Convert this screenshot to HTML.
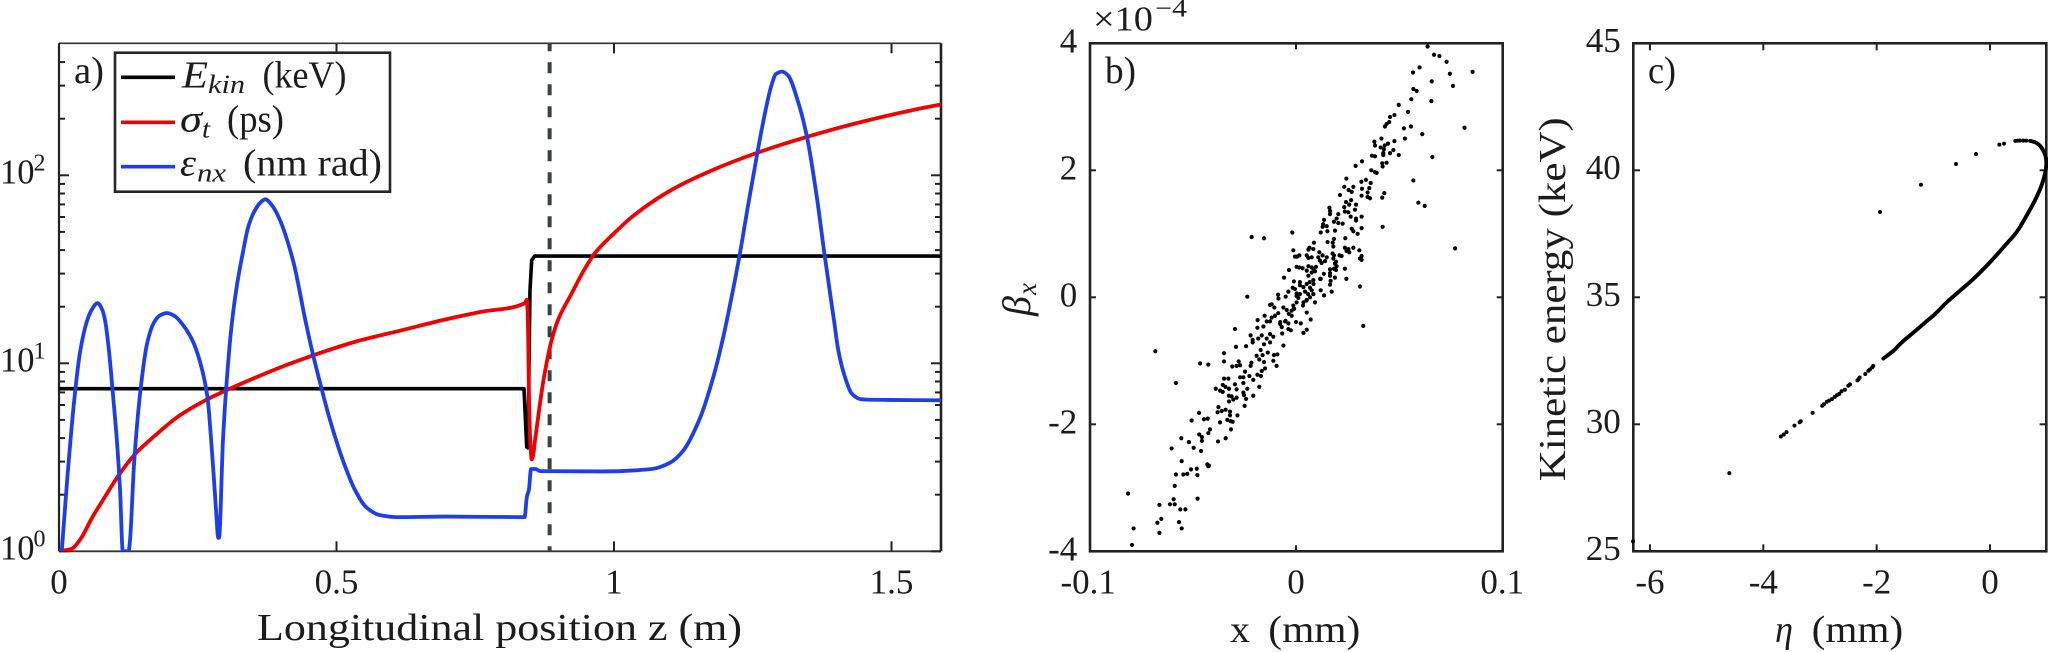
<!DOCTYPE html>
<html lang="en">
<head>
<meta charset="utf-8">
<title>Beam dynamics figure</title>
<style>
html,body{margin:0;padding:0;background:#fff;width:2048px;height:652px;overflow:hidden}
svg{display:block}
text{font-family:"Liberation Serif",serif;fill:#1c1c1c}
.it{font-style:italic}
</style>
</head>
<body>
<svg id="fig" width="2048" height="652" viewBox="0 0 2048 652" xmlns="http://www.w3.org/2000/svg">
  <defs>
    <clipPath id="clip-a"><rect x="59" y="43.3" width="882" height="508"/></clipPath>
  </defs>
  <rect x="0" y="0" width="2048" height="652" fill="#fff"/>
  <g id="panel-a"></g>
  <g id="panel-b"></g>
  <g id="panel-c"></g>

  <g>
    <rect x="115" y="52.7" width="275" height="139" fill="#fff" stroke="#262626" stroke-width="2.6"/>
    <line x1="121" y1="77.3" x2="175" y2="77.3" stroke="#000" stroke-width="3.6"/>
    <line x1="121" y1="122.3" x2="175" y2="122.3" stroke="#f00000" stroke-width="3.6"/>
    <line x1="121" y1="166.7" x2="175" y2="166.7" stroke="#1f3fe6" stroke-width="3.6"/>
    <text class="it" x="182" y="87.3" font-size="38" textLength="26" lengthAdjust="spacingAndGlyphs">E</text>
    <text class="it" x="208" y="93" font-size="26" textLength="37" lengthAdjust="spacingAndGlyphs">kin</text>
    <text x="262.5" y="87.3" font-size="38" textLength="84" lengthAdjust="spacingAndGlyphs">(keV)</text>
    <text class="it" x="180" y="131.7" font-size="38" textLength="22" lengthAdjust="spacingAndGlyphs">σ</text>
    <text class="it" x="202" y="137.5" font-size="26" textLength="8" lengthAdjust="spacingAndGlyphs">t</text>
    <text x="227" y="131.7" font-size="38" textLength="57" lengthAdjust="spacingAndGlyphs">(ps)</text>
    <text class="it" x="180" y="175.7" font-size="38" textLength="16" lengthAdjust="spacingAndGlyphs">ε</text>
    <text class="it" x="197" y="181.5" font-size="26" textLength="29" lengthAdjust="spacingAndGlyphs">nx</text>
    <text x="243" y="175.7" font-size="38" textLength="139" lengthAdjust="spacingAndGlyphs">(nm rad)</text>
  </g>

  <text x="74" y="83" font-size="38" textLength="30" lengthAdjust="spacingAndGlyphs">a)</text>
  <text x="1105" y="83" font-size="38" textLength="31" lengthAdjust="spacingAndGlyphs">b)</text>
  <text x="1648" y="83" font-size="38" textLength="28" lengthAdjust="spacingAndGlyphs">c)</text>

  <text x="257" y="640" font-size="38" textLength="485" lengthAdjust="spacingAndGlyphs">Longitudinal position z (m)</text>

  <text x="1230" y="642" font-size="38" textLength="20" lengthAdjust="spacingAndGlyphs">x</text>
  <text x="1268.3" y="642" font-size="38" textLength="92" lengthAdjust="spacingAndGlyphs">(mm)</text>
  <g transform="translate(1030,316) rotate(-90)">
    <text class="it" x="0" y="0" font-size="40">β</text>
    <text class="it" x="21" y="6" font-size="27">x</text>
  </g>
  <g>
    <text x="1093" y="30.7" font-size="35" textLength="60" lengthAdjust="spacingAndGlyphs">×10</text>
    <text x="1155" y="16.7" font-size="25" textLength="32" lengthAdjust="spacingAndGlyphs">−4</text>
  </g>

  <text class="it" x="1775" y="642" font-size="38" textLength="18" lengthAdjust="spacingAndGlyphs">η</text>
  <text x="1811.7" y="642" font-size="38" textLength="91.5" lengthAdjust="spacingAndGlyphs">(mm)</text>
  <text x="0" y="0" font-size="38" textLength="364" lengthAdjust="spacingAndGlyphs" transform="translate(1565,481.3) rotate(-90)">Kinetic energy (keV)</text>
</svg>

<script>
// ---------- Panel a data ----------
const xTicksA = [0, 0.5, 1, 1.5];
const xTickLabelsA = ['0', '0.5', '1', '1.5'];
const yDecadesA = [0, 1, 2];
const markerZ = [0.884];

const energyZ = [0, 0.8378, 0.8427, 0.845, 0.8486, 0.8517, 0.857, 1.59];
const energyKeV = [7.33, 7.33, 3.59, 3.55, 24.4, 35.3, 37.2, 37.2];

const sigmaZ = [0, 0.0223, 0.0386, 0.0586, 0.0865, 0.1068, 0.1351, 0.1748, 0.2155, 0.2677, 0.304, 0.3523, 0.4085, 0.4568, 0.5369, 0.618, 0.6919, 0.7586, 0.8396, 0.8427, 0.8445, 0.8474, 0.8495, 0.8517, 0.854, 0.8577, 0.8667, 0.873, 0.8877, 0.8991, 0.9243, 0.9441, 0.9654, 1.0, 1.0342, 1.1034, 1.1723, 1.2586, 1.3472, 1.4481, 1.586, 1.59];
const sigmaPs = [1.00, 1.03, 1.16, 1.49, 2.03, 2.52, 3.24, 4.17, 5.23, 6.44, 7.24, 8.35, 9.76, 11.0, 13.1, 15.0, 17.0, 18.75, 20.9, 21.8, 18.5, 5.42, 3.66, 3.08, 3.2, 3.89, 6.13, 8.15, 13.3, 17.0, 23.7, 30.6, 38.5, 49.1, 60.7, 83.6, 105, 132, 160, 193, 237, 238];

const emitZ = [0.005, 0.0144, 0.0265, 0.0378, 0.0505, 0.0595, 0.0694, 0.0775, 0.0829, 0.0901, 0.0973, 0.1045, 0.11, 0.115, 0.1254, 0.1279, 0.1351, 0.147, 0.1591, 0.1712, 0.182, 0.1946, 0.209, 0.2198, 0.2396, 0.254, 0.2677, 0.2739, 0.2793, 0.2829, 0.287, 0.2883, 0.2955, 0.304, 0.3117, 0.3207, 0.3315, 0.3405, 0.3506, 0.3622, 0.3719, 0.3838, 0.3957, 0.4216, 0.4447, 0.4568, 0.4728, 0.4883, 0.5132, 0.5333, 0.5532, 0.5775, 0.609, 0.6973, 0.8389, 0.8429, 0.8468, 0.8505, 0.8589, 0.8667, 0.9796, 1.0681, 1.1002, 1.1243, 1.155, 1.18, 1.1964, 1.2108, 1.227, 1.2414, 1.2586, 1.272, 1.2829, 1.2919, 1.3032, 1.3135, 1.3308, 1.3477, 1.3654, 1.3791, 1.3964, 1.4042, 1.4162, 1.4283, 1.4432, 1.4553, 1.59];
const emitNmRad = [1.00, 2.33, 5.98, 11.4, 16.8, 19.4, 20.9, 19.4, 17.0, 11.6, 6.78, 3.81, 2.12, 1.00, 1.00, 1.14, 2.87, 7.28, 12.9, 16.5, 18.0, 18.5, 17.8, 16.5, 13.4, 10.2, 6.54, 4.0, 2.39, 1.66, 1.18, 1.18, 3.94, 9.44, 16.6, 26.1, 39.1, 52.5, 63.1, 71.3, 74.5, 69.2, 60.0, 35.3, 16.5, 11.4, 7.39, 4.99, 2.95, 2.12, 1.72, 1.56, 1.52, 1.53, 1.52, 1.94, 2.14, 2.74, 2.74, 2.67, 2.66, 2.74, 2.95, 3.42, 5.12, 8.67, 13.6, 21.7, 38.6, 68.7, 133, 214, 295, 346, 356, 340, 251, 160, 76.7, 38.3, 16.9, 11.7, 8.45, 6.9, 6.46, 6.41, 6.36];

// ---------- Panel b data: [x (mm), beta_x (1e-4)] ----------
const xTicksB = [-0.1, 0, 0.1];
const xTickLabelsB = ['-0.1', '0', '0.1'];
const yTicksB = [-4, -2, 0, 2, 4];
const yTickLabelsB = ['-4', '-2', '0', '2', '4'];
const particlesB = [
[.0638,3.95],[.0669,3.82],[.0695,3.80],[.0730,3.71],[.0599,3.62],[.0567,3.54],[.0856,3.55],[.0746,3.52],[.0658,3.40],[.0761,3.33],
[.0569,3.28],[.0585,3.25],[.0559,3.12],[.0656,3.09],[.0498,3.03],[.0543,2.92],[.0477,2.87],[.0456,2.84],[.0452,2.76],[.0439,2.73],
[.0431,2.69],[.0817,2.67],[.0523,2.66],[.0557,2.69],[.0612,2.57],[.0528,2.50],[.0414,2.50],[.0477,2.46],[.0380,2.45],[.0383,2.39],
[.0446,2.42],[.0430,2.39],[.0410,2.36],[.0426,2.33],[.0472,2.32],[.0423,2.27],[.0456,2.27],[.0498,2.24],[.0423,2.24],[.0368,2.23],
[.0383,2.22],[.0661,2.21],[.0320,2.14],[.0289,2.07],[.0439,2.12],[.0418,2.11],[.0420,2.06],[.0365,2.00],[.0383,1.97],[.0391,1.96],
[.0244,1.87],[.0569,1.84],[.0317,1.82],[.0339,1.85],[.0362,1.80],[.0234,1.74],[.0278,1.74],[.0320,1.71],[.0355,1.72],[.0255,1.69],
[.0270,1.66],[.0347,1.65],[.0428,1.64],[.0213,1.61],[.0318,1.60],[.0347,1.58],[.0359,1.56],[.0418,1.57],[.0593,1.49],[.0624,1.44],
[.0267,1.53],[.0242,1.50],[.0258,1.46],[.0291,1.46],[.0162,1.41],[.0234,1.42],[.0286,1.38],[.0165,1.36],[.0237,1.35],[.0254,1.34],
[.0205,1.31],[.0165,1.31],[.0265,1.27],[.0318,1.27],[.0291,1.24],[.0291,1.21],[.0197,1.24],[.0136,1.22],[.0184,1.19],[.0205,1.17],
[.0226,1.16],[.0132,1.15],[.0129,1.11],[.0149,1.12],[.0318,1.09],[.0420,1.11],[.0189,1.05],[.0270,1.08],[.0120,1.02],[.0152,1.04],
[.0278,1.04],[.0299,1.00],[-.0018,1.02],[-.0215,.95],[-.0155,.93],[.0239,.93],[.0184,.92],[.0153,.87],[.0178,.86],[.0087,.86],
[.0181,.80],[.0771,.77],[.0065,.78],[.0084,.76],[.0060,.75],[.0237,.78],[.0254,.76],[.0278,.78],[-.0013,.74],[.0307,.74],
[.0245,.73],[.0258,.71],[.0113,.71],[.0221,.65],[.0318,.65],[.0052,.66],[.0016,.66],[-.0005,.64],[.0005,.64],[.0184,.66],
[.0129,.66],[.0108,.63],[.0149,.63],[.0076,.63],[.0181,.61],[.0310,.61],[.0318,.59],[.0060,.62],[.0116,.58],[.0194,.56],
[.0141,.57],[.0124,.54],[.0189,.53],[.0003,.48],[.0016,.47],[.0060,.49],[.0097,.48],[.0197,.49],[.0032,.46],[.0084,.45],
[.0052,.42],[.0165,.44],[-.0034,.43],[.0092,.41],[.0076,.39],[.0194,.43],[.0184,.45],[.0165,.38],[.0060,.34],[.0165,.34],
[-.0058,.31],[.0084,.27],[.0120,.29],[.0189,.31],[.0168,.26],[-.0010,.25],[.0019,.24],[.0165,.20],[.0052,.21],[.0019,.19],
[.0310,.17],[-.0016,.15],[.0036,.16],[-.0005,.13],[.0068,.15],[.0120,.11],[.0173,.09],[-.0037,.09],[.0044,.09],[.0136,.03],
[.0003,.06],[.0019,.05],[.0084,.05],[-.0087,.04],[-.0050,.01],[.0003,.02],[.0011,-.01],[-.0236,.01],[-.0085,-.02],[.0052,-.04],
[.0036,-.08],[.0092,-.08],[.0003,-.08],[-.0118,-.11],[-.0126,-.12],[-.0013,-.13],[-.0105,-.16],[-.0061,-.16],[-.0010,-.18],[-.0045,-.20],
[-.0021,-.21],[.0052,-.24],[-.0086,-.25],[-.0152,-.29],[-.0102,-.29],[-.0021,-.29],[-.0118,-.32],[-.0186,-.36],[.0071,-.35],[-.0126,-.38],
[-.0142,-.38],[-.0053,-.38],[-.0037,-.41],[.0000,-.39],[.0023,-.41],[-.0077,-.42],[.0326,-.45],[-.0296,-.50],[-.0187,-.48],[-.0158,-.46],
[-.0069,-.47],[-.0037,-.50],[.0052,-.51],[.0036,-.56],[-.0220,-.60],[-.0126,-.58],[-.0110,-.62],[-.0166,-.60],[-.0183,-.65],[-.0210,-.67],
[-.0210,-.71],[-.0142,-.65],[-.0155,-.74],[-.0126,-.71],[-.0061,-.76],[-.0242,-.77],[-.0291,-.78],[-.0682,-.85],[-.0171,-.83],[-.0137,-.87],
[-.0349,-.88],[-.0090,-.90],[-.0107,-.91],[-.0162,-.91],[-.0191,-.92],[-.0178,-.98],[-.0349,-1.01],[-.0278,-1.01],[-.0155,-1.02],[-.0110,-1.00],
[-.0465,-1.04],[-.0425,-1.06],[-.0216,-1.03],[-.0271,-1.07],[-.0220,-1.08],[-.0309,-1.09],[-.0094,-1.08],[-.0288,-1.08],[-.0150,-1.12],[-.0166,-1.16],
[-.0247,-1.17],[-.0255,-1.26],[-.0271,-1.26],[-.0226,-1.24],[-.0187,-1.22],[-.0170,-1.24],[-.0349,-1.28],[-.0328,-1.28],[-.0207,-1.30],[-.0582,-1.35],
[-.0255,-1.35],[-.0355,-1.38],[-.0296,-1.37],[-.0342,-1.41],[-.0178,-1.41],[-.0389,-1.44],[-.0325,-1.44],[-.0288,-1.45],[-.0236,-1.44],[-.0368,-1.47],
[-.0355,-1.49],[-.0255,-1.50],[-.0252,-1.54],[-.0207,-1.55],[-.0325,-1.55],[-.0312,-1.56],[-.0288,-1.58],[-.0242,-1.60],[-.0304,-1.61],[-.0325,-1.64],
[-.0249,-1.71],[-.0376,-1.73],[-.0341,-1.77],[-.0360,-1.79],[-.0380,-1.81],[-.0320,-1.80],[-.0470,-1.82],[-.0320,-1.86],[-.0284,-1.86],[-.0428,-1.91],
[-.0446,-1.92],[-.0506,-1.94],[-.0333,-1.93],[-.0317,-1.95],[-.0307,-1.96],[-.0368,-1.97],[-.0315,-2.08],[-.0417,-2.08],[-.0425,-2.14],[-.0469,-2.16],
[-.0456,-2.20],[-.0556,-2.22],[-.0341,-2.22],[-.0456,-2.26],[-.0378,-2.27],[-.0519,-2.28],[-.0496,-2.37],[-.0603,-2.38],[-.0460,-2.42],[-.0554,-2.58],
[-.0430,-2.63],[-.0425,-2.66],[-.0422,-2.65],[-.0509,-2.71],[-.0481,-2.70],[-.0527,-2.78],[-.0546,-2.79],[-.0582,-2.79],[-.0478,-2.80],[-.0588,-2.97],
[-.0814,-3.09],[-.0477,-3.17],[-.0593,-3.18],[-.0662,-3.27],[-.0611,-3.26],[-.0588,-3.26],[-.0561,-3.34],[-.0536,-3.34],[-.0653,-3.49],[-.0672,-3.55],
[-.0567,-3.54],[-.0787,-3.64],[-.0554,-3.64],[-.0662,-3.71],[-.0795,-3.90],
[.0059,.05],[.0068,0],[.0051,-.05],[.0034,-.13],[-.0009,-.18],[-.0035,-.26],[-.0076,-.39],[-.0051,-.37],[-.0025,-.52],[-.0067,-.57],
[.0076,.11],[.0066,.24],[.0085,.21],[.0117,.29],[.0135,.37],[.0076,.47],[.0177,.69],[.0211,.66],[.0237,.45],[.0244,.29]
];

// ---------- Panel c data ----------
const xTicksC = [-6, -4, -2, 0];
const xTickLabelsC = ['-6', '-4', '-2', '0'];
const yTicksC = [25, 30, 35, 40, 45];
const yTickLabelsC = ['25', '30', '35', '40', '45'];
const curveEta = [0.706, 0.82, 0.91, 0.976, 0.994, 0.976, 0.91, 0.794, 0.647, 0.47, 0.265, 0, -0.294, -0.53, -0.765, -0.97, -1.118, -1.294, -1.353, -1.559, -1.706, -1.882];
const curveEnergy = [41.16, 41.08, 40.89, 40.59, 40.26, 39.93, 39.41, 38.82, 38.22, 37.57, 37.04, 36.38, 35.72, 35.26, 34.80, 34.34, 34.06, 33.72, 33.61, 33.22, 32.89, 32.59];
const looseEta = [-6.3, -4.6, -3.69, -3.64, -3.59, -3.45, -3.36, -3.34, -3.13, -2.96, -2.93, -2.88, -2.84, -2.79, -2.74, -2.7, -2.66, -2.62, -2.56, -2.5, -2.47, -2.34, -2.32, -2.3, -2.2, -2.147, -2.12, -2.08, -2.06, -1.94, -1.218, -0.6, -0.247, 0.165, 0.247, 0.447, 0.49, 0.53, 0.588, 0.64];
const looseEnergy = [25.39, 28.08, 29.52, 29.6, 29.69, 29.95, 30.08, 30.12, 30.45, 30.73, 30.79, 30.89, 30.93, 30.99, 31.08, 31.15, 31.2, 31.3, 31.36, 31.52, 31.57, 31.73, 31.78, 31.84, 31.98, 32.11, 32.16, 32.24, 32.3, 38.36, 39.43, 40.25, 40.64, 41.01, 41.05, 41.16, 41.17, 41.17, 41.17, 41.17];

// ---------- Axis functions ----------
const NS = 'http://www.w3.org/2000/svg';
const TOP = 43.3, BOTTOM = 551.3;
const xA = z => 59 + 555 * z;
const yA = v => 551.3 - 188 * Math.log10(v);
const xB = x => 1296 + 2063 * x;
const yB = b => 297.3 - 63.5 * b;
const xC = e => 1990 + 56.67 * e;
const yC = k => 43.3 + (45 - k) * 25.4;

function make(parent, tag, attrs, content) {
  const el = document.createElementNS(NS, tag);
  for (const k in attrs) el.setAttribute(k, attrs[k]);
  if (content !== undefined) el.textContent = content;
  parent.appendChild(el);
  return el;
}

function tick(parent, x1, y1, x2, y2, width) {
  const el = make(parent, 'line', {x1: x1, y1: y1, x2: x2, y2: y2, stroke: '#222', 'stroke-width': width});
  
  
}

function label(parent, x, y, str, anchor, size) {
  const el = make(parent, 'text', {x: x, y: y, 'text-anchor': anchor, 'font-size': size}, str);
  
  
}

function frame(parent, x, y, w, h) {
  const el = make(parent, 'rect', {x: x, y: y, width: w, height: h, fill: 'none', stroke: '#222', 'stroke-width': 2.6});
  
  
}

// Smooth path through the data points (monotone cubic in pixel space).
function monotonePath(px, py) {
  const n = px.length;
  const d = [];
  for (let i = 0; i < n - 1; i++) d.push((py[i + 1] - py[i]) / (px[i + 1] - px[i]));
  const m = [d[0]];
  for (let i = 1; i < n - 1; i++) {
    if (d[i - 1] * d[i] <= 0) { m.push(0); continue; }
    const w1 = 2 * (px[i + 1] - px[i]) + (px[i] - px[i - 1]);
    const w2 = (px[i + 1] - px[i]) + 2 * (px[i] - px[i - 1]);
    m.push((w1 + w2) / (w1 / d[i - 1] + w2 / d[i]));
  }
  m.push(d[n - 2]);
  let s = 'M' + px[0].toFixed(2) + ' ' + py[0].toFixed(2);
  for (let i = 0; i < n - 1; i++) {
    const h = (px[i + 1] - px[i]) / 3;
    s += ' C' + (px[i] + h).toFixed(2) + ' ' + (py[i] + m[i] * h).toFixed(2) + ' ' +
         (px[i + 1] - h).toFixed(2) + ' ' + (py[i + 1] - m[i + 1] * h).toFixed(2) + ' ' +
         px[i + 1].toFixed(2) + ' ' + py[i + 1].toFixed(2);
  }
  return s;
}

// Smooth parametric path through points (Catmull-Rom), for a curve that turns back on itself.
function catmullPath(px, py) {
  const n = px.length;
  let s = 'M' + px[0].toFixed(2) + ' ' + py[0].toFixed(2);
  for (let i = 0; i < n - 1; i++) {
    const a = Math.max(i - 1, 0), b = Math.min(i + 2, n - 1);
    s += ' C' + (px[i] + (px[i + 1] - px[a]) / 6).toFixed(2) + ' ' + (py[i] + (py[i + 1] - py[a]) / 6).toFixed(2) + ' ' +
         (px[i + 1] - (px[b] - px[i]) / 6).toFixed(2) + ' ' + (py[i + 1] - (py[b] - py[i]) / 6).toFixed(2) + ' ' +
         px[i + 1].toFixed(2) + ' ' + py[i + 1].toFixed(2);
  }
  return s;
}

function smoothSeries(parent, xs, ys, color, width, name) {
  const el = make(parent, 'path', {d: monotonePath(xs.map(xA), ys.map(yA)), fill: 'none', stroke: color, 'stroke-width': width, 'stroke-linejoin': 'round', 'clip-path': 'url(#clip-a)'});
  
  
}

// ---------- Panel a ----------
const gA = document.getElementById('panel-a');
const axisTop = make(gA, 'line', {x1: 59, y1: TOP, x2: 941, y2: TOP, stroke: '#333', 'stroke-width': 1.6});


const axisBottom = make(gA, 'line', {x1: 59, y1: BOTTOM, x2: 941, y2: BOTTOM, stroke: '#333', 'stroke-width': 1.8});


const axisLeft = make(gA, 'line', {x1: 59, y1: TOP, x2: 59, y2: BOTTOM, stroke: '#222', 'stroke-width': 2.2});


const axisRight = make(gA, 'line', {x1: 941, y1: TOP, x2: 941, y2: BOTTOM, stroke: '#222', 'stroke-width': 2.6});



xTicksA.forEach((t, i) => {
  tick(gA, xA(t), BOTTOM, xA(t), BOTTOM - 10, 2);
  tick(gA, xA(t), TOP, xA(t), TOP + 10, 2);
  label(gA, xA(t), 593.7, xTickLabelsA[i], 'middle', 35);
});
yDecadesA.forEach(d => {
  const base = Math.pow(10, d);
  tick(gA, 59, yA(base), 69, yA(base), 2);
  tick(gA, 941, yA(base), 931, yA(base), 2);
  label(gA, 0, yA(base) + 8, '10', 'start', 34.5);
  label(gA, 33.5, yA(base) - 5, String(d), 'start', 24);
  for (let m = 2; m < 10; m++) {
    if (base * m >= 500) continue;
    tick(gA, 59, yA(base * m), 65, yA(base * m), 2);
    tick(gA, 941, yA(base * m), 935, yA(base * m), 2);
  }
});
markerZ.forEach(z => {
  const el = make(gA, 'line', {x1: xA(z), y1: TOP, x2: xA(z), y2: BOTTOM, stroke: '#3a3f44', 'stroke-width': 4, 'stroke-dasharray': '11 11', 'stroke-dashoffset': '3'});
  
  
});
const energyLine = make(gA, 'polyline', {
  points: energyZ.map((z, i) => xA(z).toFixed(2) + ',' + yA(energyKeV[i]).toFixed(2)).join(' '),
  fill: 'none', stroke: '#000', 'stroke-width': 3.6, 'stroke-linejoin': 'round', 'clip-path': 'url(#clip-a)'
});


smoothSeries(gA, sigmaZ, sigmaPs, '#f00000', 3.8, 'series-bunch-length');
smoothSeries(gA, emitZ, emitNmRad, '#1f3fe6', 3.8, 'series-emittance');

// ---------- Panel b ----------
const gB = document.getElementById('panel-b');
frame(gB, 1090, TOP, 412.7, BOTTOM - TOP);
xTicksB.forEach((t, i) => {
  if (t === 0) {
    tick(gB, xB(t), BOTTOM, xB(t), BOTTOM - 6, 2);
    tick(gB, xB(t), TOP, xB(t), TOP + 6, 2);
  }
  label(gB, t < 0 ? xB(t) - 1.5 : xB(t), 593.7, xTickLabelsB[i], 'middle', 35);
});
yTicksB.forEach((t, i) => {
  if (Math.abs(t) < 4) {
    tick(gB, 1090, yB(t), 1096, yB(t), 2);
    tick(gB, 1502.7, yB(t), 1496.7, yB(t), 2);
  }
  label(gB, 1077.3, yB(t) + 9, yTickLabelsB[i], 'end', 35);
});
particlesB.forEach(p => {
  const el = make(gB, 'circle', {cx: xB(p[0]).toFixed(2), cy: yB(p[1]).toFixed(2), r: 2.1, fill: '#000'});
  
  
});

// ---------- Panel c ----------
const gC = document.getElementById('panel-c');
frame(gC, 1633.3, TOP, 413, BOTTOM - TOP);
xTicksC.forEach((t, i) => {
  tick(gC, xC(t), BOTTOM, xC(t), BOTTOM - 7, 2);
  tick(gC, xC(t), TOP, xC(t), TOP + 7, 2);
  label(gC, xC(t), 593.7, xTickLabelsC[i], 'middle', 35);
});
yTicksC.forEach((t, i) => {
  if (t > 25 && t < 45) {
    tick(gC, 1633.3, yC(t), 1640, yC(t), 2);
    tick(gC, 2046.3, yC(t), 2039.6, yC(t), 2);
  }
  label(gC, 1620.7, yC(t) + 8.5, yTickLabelsC[i], 'end', 35);
});
const beamLine = make(gC, 'path', {
  d: catmullPath(curveEta.map(xC), curveEnergy.map(yC)),
  fill: 'none', stroke: '#000', 'stroke-width': 3.9, 'stroke-linejoin': 'round', 'stroke-linecap': 'round'
});


looseEta.forEach((v, i) => {
  const el = make(gC, 'circle', {cx: xC(v).toFixed(2), cy: yC(looseEnergy[i]).toFixed(2), r: 2, fill: '#000'});
  
  
});
</script>
</body>
</html>
